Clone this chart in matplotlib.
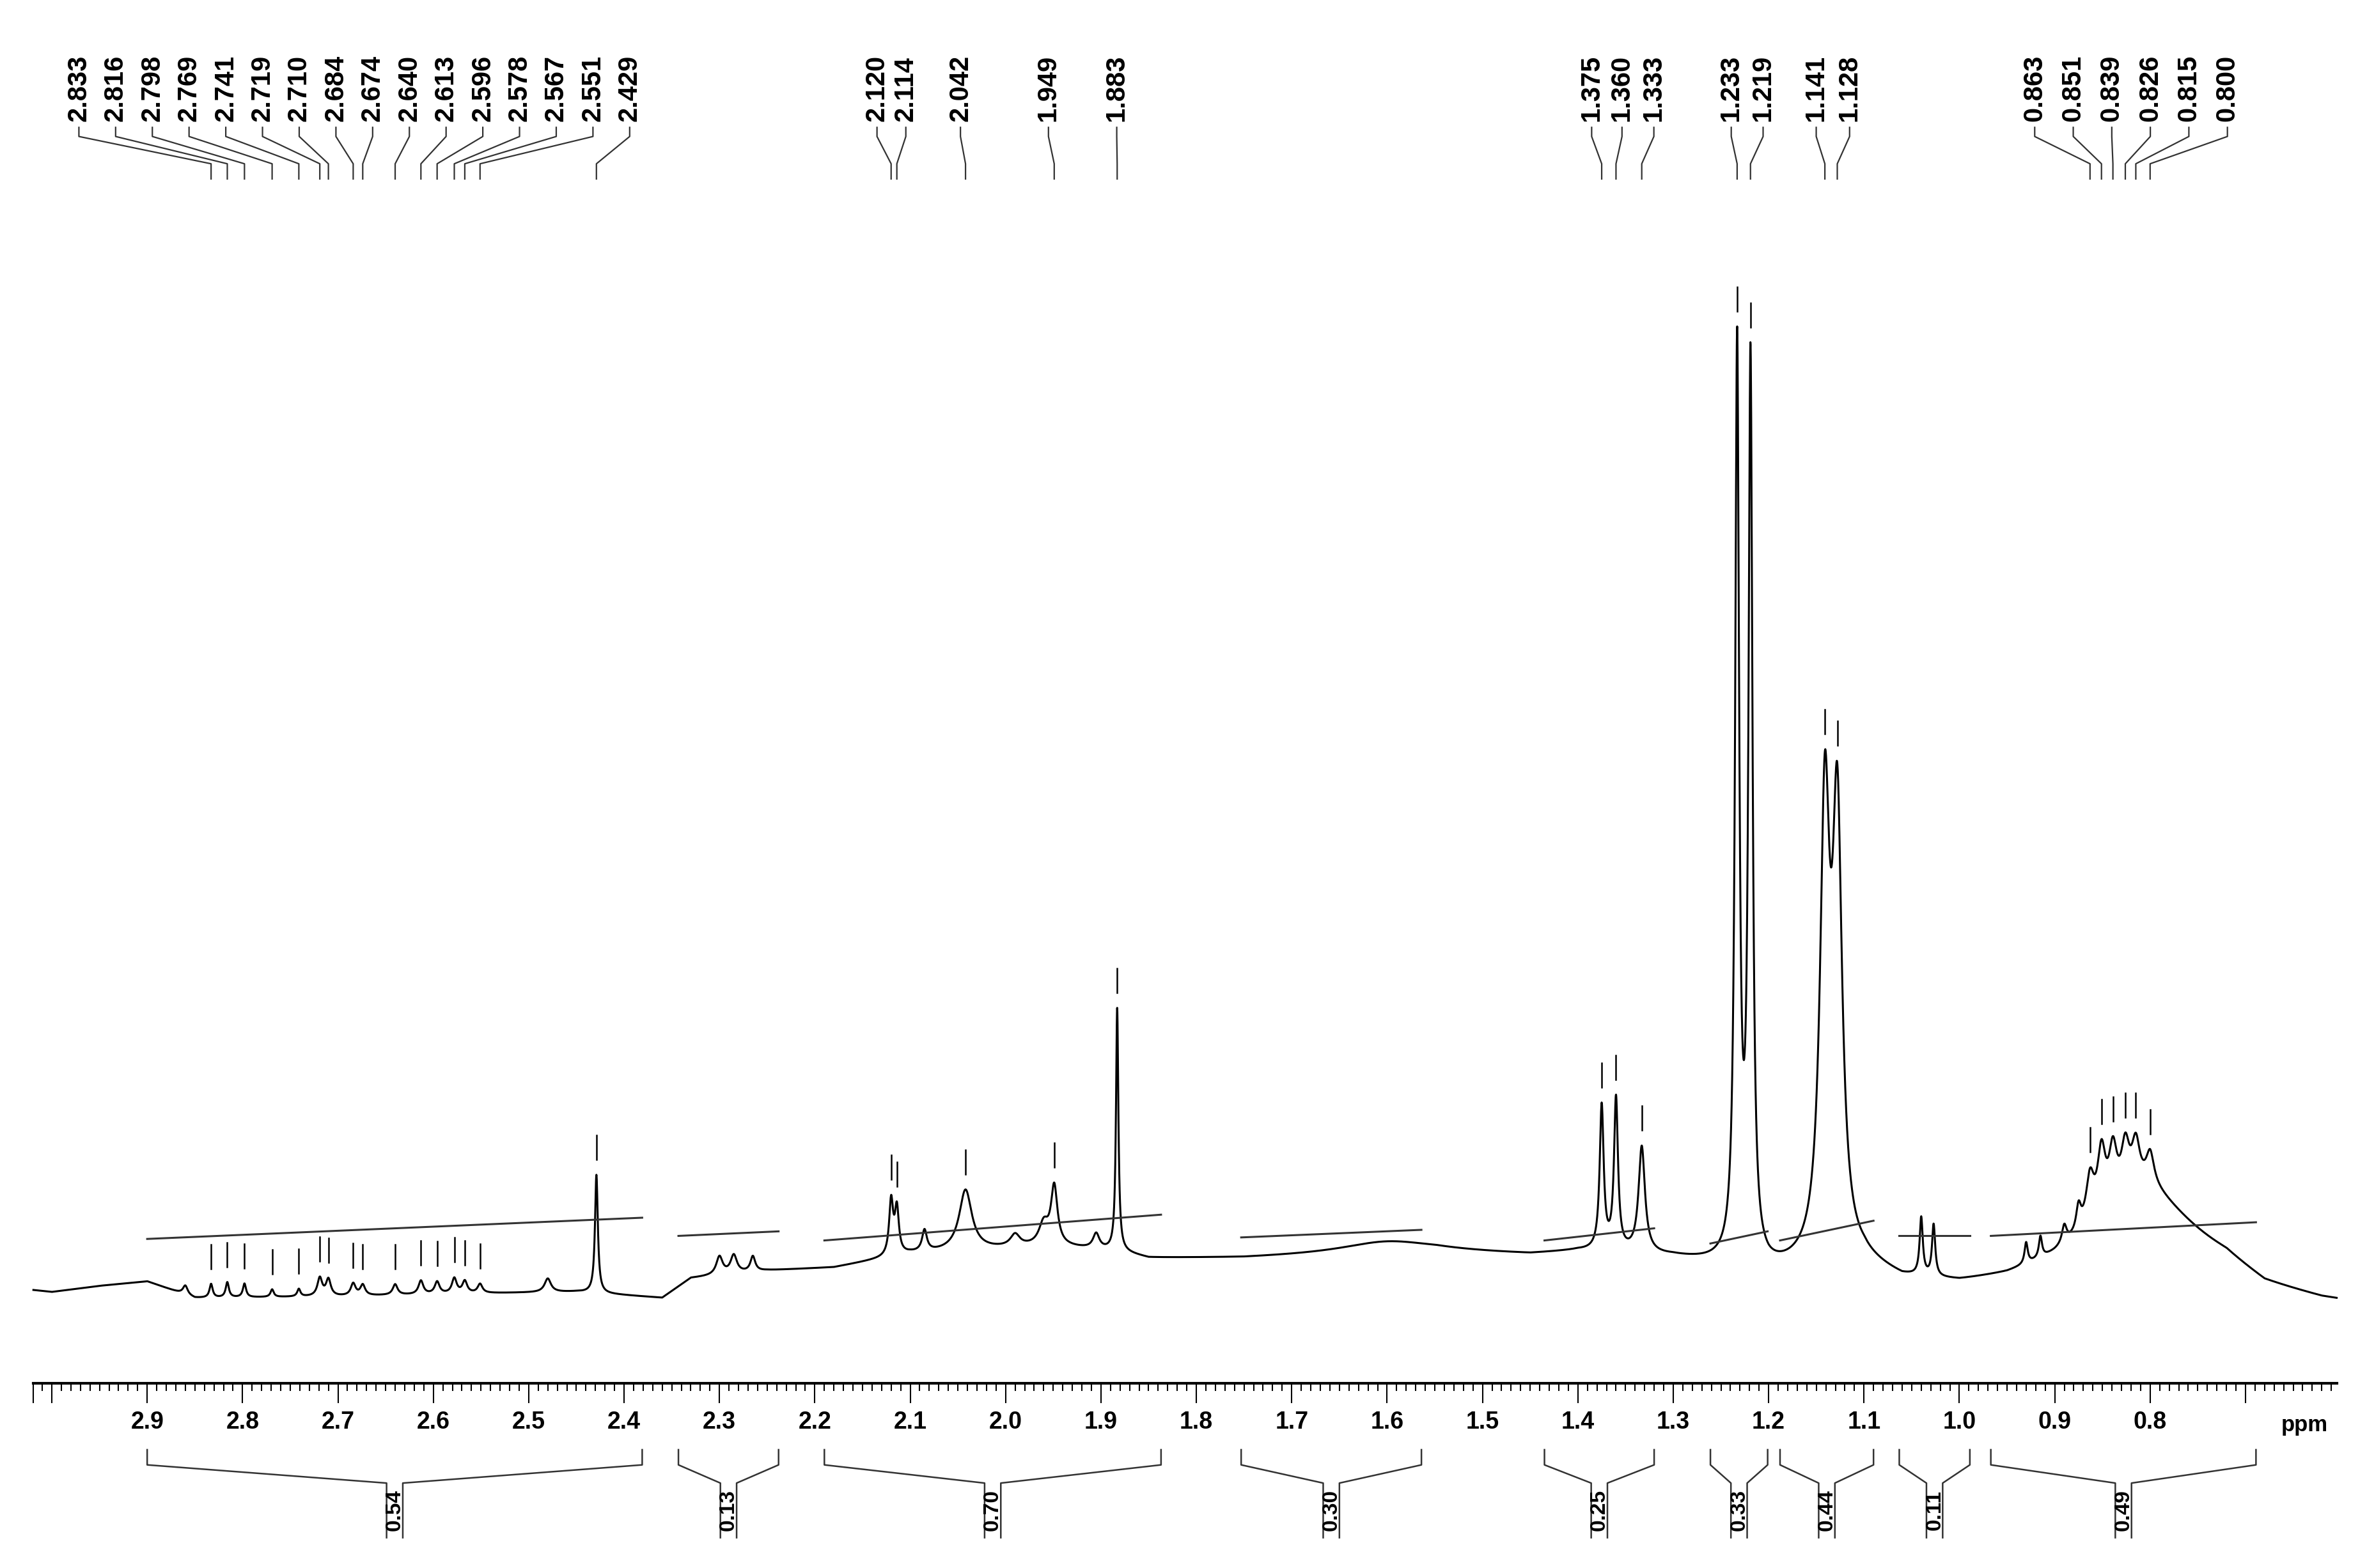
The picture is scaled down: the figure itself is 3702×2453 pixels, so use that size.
import numpy as np
import matplotlib
matplotlib.use("Agg")
import matplotlib.pyplot as plt

plt.rcParams['font.family'] = ['Liberation Sans', 'DejaVu Sans']

# peaks: ppm, height (display px), half width (ppm)
peak_ppm = [2.86, 2.833, 2.816, 2.798, 2.769, 2.741, 2.719, 2.710, 2.684, 2.674,
            2.640, 2.613, 2.596, 2.578, 2.567, 2.551, 2.48, 2.429,
            2.30, 2.285, 2.265,
            2.120, 2.114, 2.085, 2.042, 1.99, 1.96, 1.949, 1.905, 1.883,
            1.60,
            1.375, 1.360, 1.333, 1.233, 1.219, 1.141, 1.128,
            1.040, 1.027,
            0.930, 0.915, 0.890, 0.875, 0.863, 0.851, 0.839, 0.826, 0.815, 0.800, 0.81]
peak_h = [6, 9, 10, 9, 5, 5, 12, 11, 8, 7,
          7, 9, 8, 10, 8, 6, 9, 78,
          12, 12, 10,
          36, 30, 14, 40, 8, 14, 38, 10, 160,
          8,
          95, 100, 70, 600, 590, 290, 280,
          38, 34,
          14, 14, 12, 16, 30, 40, 34, 30, 28, 20, 38]
peak_w = [0.003, 0.002, 0.002, 0.002, 0.002, 0.002, 0.003, 0.003, 0.003, 0.003,
          0.003, 0.003, 0.003, 0.003, 0.003, 0.003, 0.004, 0.0018,
          0.004, 0.004, 0.003,
          0.0025, 0.0025, 0.003, 0.008, 0.006, 0.006, 0.004, 0.004, 0.0015,
          0.06,
          0.0025, 0.0025, 0.004, 0.0025, 0.0025, 0.006, 0.006,
          0.002, 0.002,
          0.002, 0.002, 0.003, 0.003, 0.005, 0.005, 0.005, 0.005, 0.005, 0.005, 0.06]

# baseline (display px from top)
base_ppm = [3.06, 3.00, 2.95, 2.90, 2.85, 2.70, 2.55, 2.45, 2.36, 2.33, 2.25, 2.18,
            2.10, 1.95, 1.88, 1.85, 1.75, 1.55, 1.45, 1.40, 1.30, 1.20, 1.10,
            1.06, 1.00, 0.95, 0.90, 0.80, 0.72, 0.68, 0.62, 0.56]
base_y = [848, 852, 848, 845, 856, 855, 853, 852, 856, 843, 838, 836,
          827, 822, 826, 830, 830, 826, 828, 826, 830, 840, 835,
          845, 848, 845, 838, 820, 835, 850, 858, 862]

label_groups = [
    ["2.833", "2.816", "2.798", "2.769", "2.741", "2.719", "2.710", "2.684",
     "2.674", "2.640", "2.613", "2.596", "2.578", "2.567", "2.551", "2.429"],
    ["2.120", "2.114", "2.042", "1.949", "1.883"],
    ["1.375", "1.360", "1.333", "1.233", "1.219", "1.141", "1.128"],
    ["0.863", "0.851", "0.839", "0.826", "0.815", "0.800"],
]
label_x = [
    [52 + 24.2 * i for i in range(16)],
    [578, 597, 633, 691, 736],
    [1049, 1069, 1090, 1141, 1162, 1197, 1219],
    [1341 + 25.4 * i for i in range(6)],
]

int_ranges = [(2.900, 2.381), (2.343, 2.238), (2.190, 1.837), (1.753, 1.564),
              (1.435, 1.320), (1.261, 1.201), (1.188, 1.090), (1.063, 0.989),
              (0.967, 0.689)]
int_values = ["0.54", "0.13", "0.70", "0.30", "0.25", "0.33", "0.44", "0.11", "0.49"]
int_y0 = [817, 815, 818, 816, 818, 820, 818, 815, 815]
int_y1 = [803, 812, 801, 811, 810, 812, 805, 815, 806]

X0, PPX = 97.0, 628.6
def d2p(x):
    return 2.9 - (x - X0) / PPX

left, right = d2p(22), d2p(1540)
ppm = np.linspace(left, right, 12000)
spec = np.interp(ppm[::-1], base_ppm[::-1], base_y[::-1])[::-1]
for p, h, w in zip(peak_ppm, peak_h, peak_w):
    spec = spec - h / (1 + ((ppm - p) / w) ** 2)

fig = plt.figure(figsize=(37.02, 24.53), dpi=100)
ax = fig.add_axes([0, 0, 1, 1])
ax.set_xlim(d2p(0), d2p(1560))
ax.set_ylim(1034, 0)
ax.axis('off')

ax.plot(ppm, spec, color='black', lw=2.2)

# integral traces
for (a, b), y0, y1 in zip(int_ranges, int_y0, int_y1):
    ax.plot([a, b], [y0, y1], color='#333333', lw=2.2)

# peak labels with leaders and markers
for names, xs in zip(label_groups, label_x):
    for name, xl in zip(names, xs):
        p = float(name)
        pl = d2p(xl)
        ax.text(pl, 80, name, rotation=90, ha='center', va='bottom',
                fontsize=30, fontweight='bold')
        ax.plot([pl, pl, p, p], [84, 90, 108, 118], color='#333333', lw=1.6)
        i = np.argmin(np.abs(ppm - p))
        top = spec[max(i - 6, 0):i + 6].min()
        ax.plot([p, p], [top - 10, top - 26], color='black', lw=1.8)

# ppm ruler
ax.plot([left, right], [912, 912], color='black', lw=3)
for k in range(int(np.ceil(right * 100)), int(np.floor(left * 100)) + 1):
    t = k / 100
    ax.plot([t, t], [912, 925 if k % 10 == 0 else 917], color='black', lw=1.5)
ax.plot([left, left], [912, 925], color='black', lw=1.5)
for t in np.arange(0.8, 2.95, 0.1):
    ax.text(t, 938, f"{t:.1f}", ha='center', va='center', fontsize=27,
            fontweight='bold')
ax.text(d2p(1519), 940, "ppm", ha='center', va='center', fontsize=25,
        fontweight='bold')

# integral brackets
gap = 0.0085
for (a, b), v in zip(int_ranges, int_values):
    c = (a + b) / 2
    ax.plot([a, a, c + gap, c + gap], [956, 966, 978, 1014], color='#333333', lw=1.8)
    ax.plot([b, b, c - gap, c - gap], [956, 966, 978, 1014], color='#333333', lw=1.8)
    ax.text(c, 996, v, rotation=90, ha='center', va='center', fontsize=24,
            fontweight='bold')

fig.savefig("out.png", dpi=100)
